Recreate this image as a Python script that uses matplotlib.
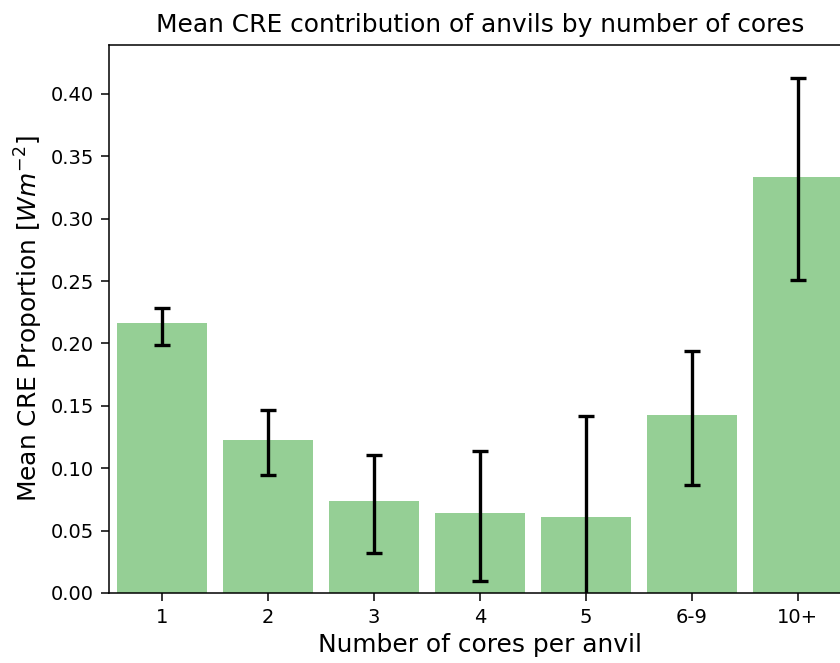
import matplotlib
matplotlib.use("Agg")
import matplotlib.pyplot as plt
import numpy as np

# Mean CRE contribution per core-count class, with confidence bounds
categories = ["1", "2", "3", "4", "5", "6-9", "10+"]
means = [0.2162, 0.1226, 0.0737, 0.0641, 0.0612, 0.1424, 0.3337]
ci_low = [0.1986, 0.0943, 0.0323, 0.0099, -0.0200, 0.0866, 0.2509]
ci_high = [0.2282, 0.1467, 0.1106, 0.1138, 0.1421, 0.1942, 0.4126]

x = np.arange(len(categories))
means_arr = np.array(means)
yerr = np.vstack([means_arr - np.array(ci_low), np.array(ci_high) - means_arr])

fig = plt.figure(figsize=(8.4, 6.63), dpi=100)
ax = fig.add_axes([0.1298, 0.1056, 0.883, 0.8266])

ax.bar(x, means, width=0.85, color="C2", alpha=0.5, linewidth=0)
ax.errorbar(x, means, yerr=yerr, fmt="none", ecolor="black",
            elinewidth=2.4, capsize=6, capthick=2.4)

ax.set_xlim(-0.5, len(categories) - 0.5)
ax.set_ylim(0, 0.4393)
ax.set_yticks(np.arange(0, 0.41, 0.05))
ax.set_yticklabels([f"{v:.2f}" for v in np.arange(0, 0.41, 0.05)])
ax.set_xticks(x)
ax.set_xticklabels(categories)
ax.tick_params(labelsize=14, length=5.5, width=1.1, pad=5.5)
for s in ax.spines.values():
    s.set_linewidth(1.1)

ax.set_xlabel("Number of cores per anvil", fontsize=17.9, labelpad=4)
ax.set_ylabel(r"Mean CRE Proportion [$Wm^{-2}$]", fontsize=17.9, labelpad=4)
ax.set_title("Mean CRE contribution of anvils by number of cores",
             fontsize=17.9, pad=9)

fig.savefig("out.png", dpi=100)
